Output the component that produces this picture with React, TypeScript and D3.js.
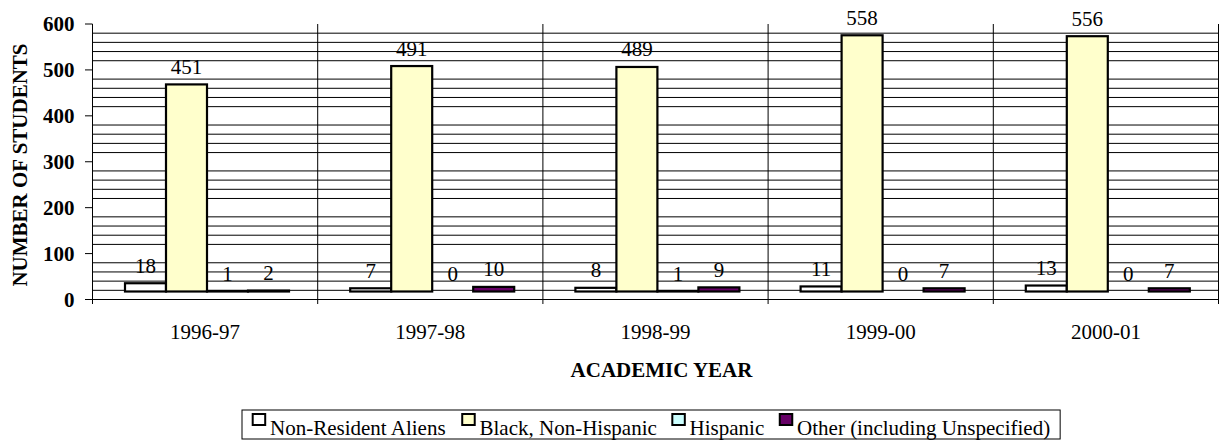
import React from "react";
import * as d3 from "d3";

const years = ["1996-97", "1997-98", "1998-99", "1999-00", "2000-01"];
const seriesNames = [
  "Non-Resident Aliens",
  "Black, Non-Hispanic",
  "Hispanic",
  "Other (including Unspecified)",
];
const nonResident = [18, 7, 8, 11, 13];
const blackNonHispanic = [451, 491, 489, 558, 556];
const hispanic = [1, 0, 1, 0, 0];
const otherUnspecified = [2, 10, 9, 7, 7];
const seriesColors = ["#FFFFFF", "#FFFFCC", "#CCFFFF", "#660066"];
const yTicks = [0, 100, 200, 300, 400, 500, 600];
const yTitle = "NUMBER OF STUDENTS";
const xTitle = "ACADEMIC YEAR";

const seriesValues = [nonResident, blackNonHispanic, hispanic, otherUnspecified];

const FONT = "'Liberation Serif', 'Times New Roman', Times, serif";

function measure(text: string, font: string): number {
  if (typeof document === "undefined") return text.length * 10;
  const c = document.createElement("canvas");
  const ctx = c.getContext("2d");
  if (!ctx) return text.length * 10;
  ctx.font = font;
  return ctx.measureText(text).width;
}

export default function App() {
  const W = 1220;
  const H = 442;
  const left = 92.5;
  const right = 1218.5;
  const top = 24;
  const zeroY = 299.5;
  const depth = 8; // 3D floor offset of the columns

  const x0 = d3.scaleBand<string>().domain(years).range([left, right]).padding(0);
  const bw = x0.bandwidth();
  const groupStart = 32.5;
  const x1 = d3
    .scaleBand<string>()
    .domain(seriesNames)
    .range([groupStart, groupStart + 164])
    .padding(0);
  const y = d3.scaleLinear().domain([0, 600]).range([zeroY, top]);

  const minorGrid = d3.range(20, 600, 20).filter((v) => v % 100 !== 0);

  // legend layout
  const legendFont = `21px ${FONT}`;
  const sw = 12.5;
  let lx = 252.7;
  const legendItems = seriesNames.map((name, i) => {
    const tw = measure(name, legendFont);
    const item = { name, color: seriesColors[i], sx: lx, tx: lx + 17.3 };
    lx = lx + 17.3 + tw + 15.5;
    return item;
  });
  const legendRight = lx - 15.5 + 10;

  return (
    <div style={{ position: "absolute", left: 0, top: 0 }}>
      <svg width={W} height={H} style={{ display: "block", background: "#fff" }}>
        {/* horizontal minor gridlines */}
        {minorGrid.map((v) => (
          <line key={"g" + v} x1={left} x2={right} y1={y(v)} y2={y(v)} stroke="#000" strokeWidth={1} />
        ))}
        {/* zero line */}
        <line x1={left - 7.5} x2={right} y1={y(0)} y2={y(0)} stroke="#000" strokeWidth={1} />
        {/* vertical category separators */}
        {years.map((yr) => (
          <line key={"v" + yr} x1={x0(yr)!} x2={x0(yr)!} y1={top} y2={zeroY + 4.5} stroke="#000" strokeWidth={1} />
        ))}
        <line x1={right} x2={right} y1={top} y2={zeroY + 4.5} stroke="#000" strokeWidth={1} />
        {/* y ticks */}
        {yTicks.map((t) => (
          <g key={"t" + t}>
            <line x1={left - 7.5} x2={left} y1={y(t)} y2={y(t)} stroke="#000" strokeWidth={1} />
            <text
              x={left - 18}
              y={y(t) + 7}
              textAnchor="end"
              fontFamily={FONT}
              fontWeight="bold"
              fontSize={21}
              fill="#000"
            >
              {t}
            </text>
          </g>
        ))}
        {/* bars */}
        {years.map((yr, yi) =>
          seriesNames.map((s, si) => {
            const v = seriesValues[si][yi];
            const bx = x0(yr)! + x1(s)!;
            const bwid = x1.bandwidth();
            const yt = y(v) - depth;
            const yb = y(0) - depth;
            return (
              <g key={yr + s}>
                {v > 0 && (
                  <rect
                    x={bx}
                    y={yt}
                    width={bwid}
                    height={yb - yt}
                    fill={seriesColors[si]}
                    stroke="#000"
                    strokeWidth={2.2}
                  />
                )}
                <text
                  x={bx + bwid / 2}
                  y={yt - 10.5}
                  textAnchor="middle"
                  fontFamily={FONT}
                  fontSize={21}
                  fill="#000"
                >
                  {v}
                </text>
              </g>
            );
          })
        )}
        {/* x labels */}
        {years.map((yr) => (
          <text
            key={"xl" + yr}
            x={x0(yr)! + bw / 2}
            y={339}
            textAnchor="middle"
            fontFamily={FONT}
            fontSize={21}
            fill="#000"
          >
            {yr}
          </text>
        ))}
        {/* axis titles */}
        <text
          x={(left + right) / 2 + 6}
          y={377}
          textAnchor="middle"
          fontFamily={FONT}
          fontWeight="bold"
          fontSize={21}
          fill="#000"
        >
          {xTitle}
        </text>
        <text
          transform={`translate(27, ${165}) rotate(-90)`}
          textAnchor="middle"
          fontFamily={FONT}
          fontWeight="bold"
          fontSize={21}
          fill="#000"
        >
          {yTitle}
        </text>
        {/* legend */}
        <rect x={242} y={410} width={legendRight - 242} height={29} fill="#fff" stroke="#000" strokeWidth={1} />
        {legendItems.map((it) => (
          <g key={"lg" + it.name}>
            <rect x={it.sx} y={414} width={sw} height={11} fill={it.color} stroke="#000" strokeWidth={2} />
            <text x={it.tx} y={435} fontFamily={FONT} fontSize={21} fill="#000">
              {it.name}
            </text>
          </g>
        ))}
      </svg>
    </div>
  );
}
